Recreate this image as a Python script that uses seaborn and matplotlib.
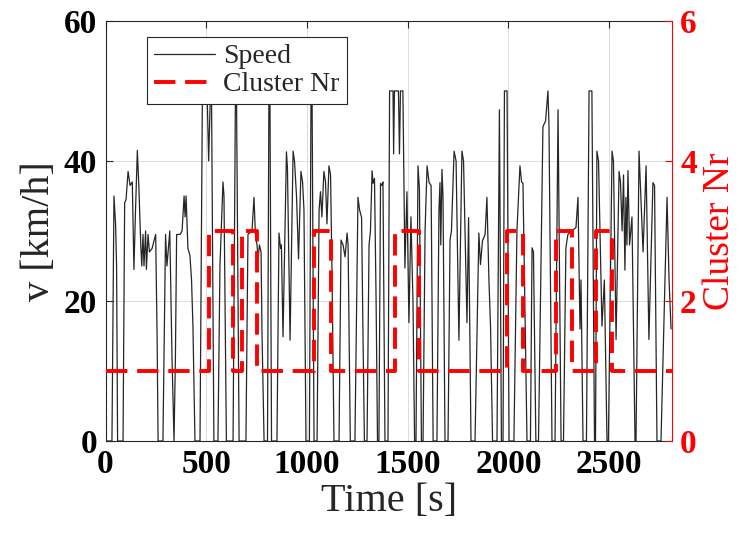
import matplotlib
matplotlib.use("Agg")
import matplotlib.pyplot as plt
import seaborn as sns
from matplotlib.lines import Line2D

# ---------------- data ----------------
time_s = [0, 32, 42, 50, 55, 60, 87, 95, 102, 112, 122, 133, 141, 149, 158, 166, 175, 180, 186, 191,
          199, 203, 211, 218, 231, 249, 256, 261, 285, 298, 305, 319, 330, 340, 347, 353, 370, 380,
          390, 395, 400, 409, 419, 427, 434, 444, 469, 481, 504, 512, 521, 526, 538, 558, 568, 583,
          588, 600, 633, 645, 650, 663, 697, 707, 727, 737, 744, 752, 757, 764, 772, 777, 787, 804,
          811, 816, 824, 851, 861, 869, 873, 881, 898, 903, 916, 931, 938, 948, 958, 970, 978, 985,
          995, 1012, 1020, 1025, 1035, 1050, 1060, 1067, 1074, 1084, 1092, 1099, 1109, 1117, 1124,
          1134, 1159, 1169, 1179, 1189, 1199, 1204, 1215, 1238, 1253, 1261, 1271, 1278, 1285, 1298,
          1308, 1315, 1323, 1328, 1335, 1343, 1350, 1357, 1365, 1372, 1377, 1387, 1402, 1410, 1427,
          1430, 1434, 1454, 1459, 1464, 1476, 1486, 1496, 1506, 1516, 1526, 1534, 1541, 1551, 1558,
          1568, 1576, 1586, 1596, 1606, 1616, 1626, 1645, 1655, 1660, 1664, 1670, 1675, 1685, 1700,
          1710, 1717, 1730, 1740, 1754, 1769, 1777, 1794, 1802, 1814, 1834, 1853, 1861, 1871, 1884,
          1893, 1903, 1911, 1921, 1943, 1955, 1965, 1973, 1980, 1993, 2003, 2027, 2042, 2057, 2065,
          2072, 2092, 2109, 2117, 2124, 2136, 2149, 2171, 2184, 2196, 2201, 2216, 2231, 2246, 2261,
          2273, 2285, 2295, 2315, 2335, 2345, 2355, 2360, 2370, 2387, 2400, 2414, 2427, 2432, 2439,
          2447, 2464, 2476, 2489, 2496, 2514, 2521, 2534, 2549, 2556, 2564, 2571, 2578, 2583, 2588,
          2593, 2601, 2613, 2628, 2633, 2648, 2668, 2683, 2697, 2717, 2725, 2737, 2757, 2787, 2797,
          2807]
speed_kmh = [0, 0, 35, 31, 25, 0, 0, 34, 34.5, 38.5, 36.5, 37, 24.5, 33, 41.5, 36, 28, 25, 29.5, 25,
             30, 24.5, 29.5, 27, 27.5, 29.5, 15, 0, 0, 29.5, 25, 30, 12, 0, 12, 29.5, 29.5, 30,
             35, 32, 35, 27.5, 26.5, 23, 16.3, 0, 0, 50, 50, 40, 50, 50, 0, 0, 25, 37,
             35, 0, 0, 50, 50, 0, 0, 29.5, 30, 34.8, 29.5, 28, 26, 28, 27, 15, 0, 0,
             50, 50, 0, 0, 29.7, 27.5, 28, 14.9, 41.3, 39, 14.4, 41.4, 40, 35, 26, 38.5, 37, 33,
             0, 0, 50, 50, 0, 0, 33, 35.6, 32, 38.5, 37, 31, 39.3, 38, 24.4,
             0, 0, 28.7, 28, 26.3, 29.7, 28, 0, 0, 34.8, 33, 31.9, 15, 0, 0,
             28, 30, 38.6, 36.8, 37.5, 20, 0, 0, 36.8, 36.5, 37, 0, 0, 50, 50,
             41, 50, 50, 41, 50, 50, 24.7, 35.6, 16.9, 32, 20, 0, 0, 39.3, 36,
             0, 0, 30, 39.3, 36.9, 36.5, 0, 0, 33, 36.9, 28, 38.8, 35, 0, 0,
             28.7, 30, 41.4, 40, 14.4, 41.4, 40, 16.9, 31.9, 0, 0, 29.7, 25.2, 28.6, 29.5,
             34.8, 23, 16.3, 0, 0, 47.3, 0, 0, 50, 50, 0, 0, 30, 39.3, 37,
             36.8, 0, 0, 27.6, 27, 0, 0, 44.9, 45.7, 50, 45, 0, 0, 47.3, 0,
             0, 27.6, 29.5, 30, 30.5, 34.8, 16, 23, 0, 0, 50, 50, 0, 0, 41.4,
             40, 16.4, 23, 0, 0, 41.4, 40, 14.5, 38.5, 37, 30, 38, 24.4, 34.8, 28,
             38.6, 28, 32, 0, 0, 41.4, 27, 39.3, 14.5, 36.9, 36.5, 0, 0, 34.8, 23,
             16]

cluster_time_s = [0, 516, 635, 679, 754, 1037, 1118, 1438, 1555, 1994, 2074, 2234, 2316, 2435, 2515, 2810]
cluster_nr = [1, 3, 1, 3, 1, 3, 1, 3, 1, 3, 1, 3, 1, 3, 1, 1]

x_ticks = [0, 500, 1000, 1500, 2000, 2500]
left_ticks = [0, 20, 40, 60]
right_ticks = [0, 2, 4, 6]

# ---------------- style ----------------
sns.set_theme(style="white")
plt.rcParams["font.family"] = ["Liberation Serif", "DejaVu Serif"]

RED = "#FF0000"
INK = "#262626"

fig = plt.figure(figsize=(7.43, 5.33), dpi=100)
ax = fig.add_axes([0.142, 0.1726, 0.762, 0.7882])
ax2 = ax.twinx()

sns.lineplot(x=time_s, y=speed_kmh, ax=ax, color=INK, linewidth=0.9,
             sort=False, estimator=None, legend=False)
sns.lineplot(x=cluster_time_s, y=cluster_nr, ax=ax2, color=RED, linewidth=2.8,
             drawstyle="steps-post", sort=False, estimator=None, legend=False)
ax2.lines[0].set_dashes([5.5, 2.5])

ax.set_xlim(0, 2810)
ax.set_ylim(0, 60)
ax2.set_ylim(0, 6)
ax.set_xticks(x_ticks)
ax.set_yticks(left_ticks)
ax2.set_yticks(right_ticks)

ax.grid(True, color="#dcdcdc", linewidth=0.7)
ax.set_axisbelow(True)

tick_font = dict(fontsize=24, fontweight="bold")
ax.set_xticklabels([str(v) for v in x_ticks], **tick_font)
ax.set_yticklabels([str(v) for v in left_ticks], **tick_font)
ax2.set_yticklabels([str(v) for v in right_ticks], color=RED, **tick_font)

ax.tick_params(axis="both", direction="in", length=5, width=0.8, colors=INK,
               top=True, right=False, pad=6)
ax.tick_params(axis="x", labelcolor="black")
ax.tick_params(axis="y", labelcolor="black")
ax2.tick_params(axis="y", direction="in", length=5, width=0.8, colors=RED, pad=6)

ax.set_xlabel("Time [s]", fontsize=29, labelpad=2)
ax.set_ylabel("v [km/h]", fontsize=29, labelpad=4)
ax2.set_ylabel("Cluster Nr", fontsize=27, color=RED, labelpad=4)

for s in ["left", "bottom", "top"]:
    ax.spines[s].set_color(INK)
    ax.spines[s].set_linewidth(0.8)
    ax2.spines[s].set_visible(False)
ax.spines["right"].set_visible(False)
ax2.spines["right"].set_color(RED)
ax2.spines["right"].set_linewidth(0.8)

handles = [Line2D([], [], color=INK, linewidth=0.9),
           Line2D([], [], color=RED, linewidth=2.8, dashes=[5.5, 2.5])]
leg = ax2.legend(handles, ["Speed", "Cluster Nr"], loc="upper left",
                 bbox_to_anchor=(0.073, 0.962), borderaxespad=0, fontsize=20,
                 frameon=True, fancybox=False, framealpha=1, edgecolor=INK,
                 handlelength=2.2, handletextpad=0.3, labelspacing=0.1,
                 borderpad=0.25)
leg.get_frame().set_linewidth(0.8)

fig.savefig("out.png", dpi=100)
